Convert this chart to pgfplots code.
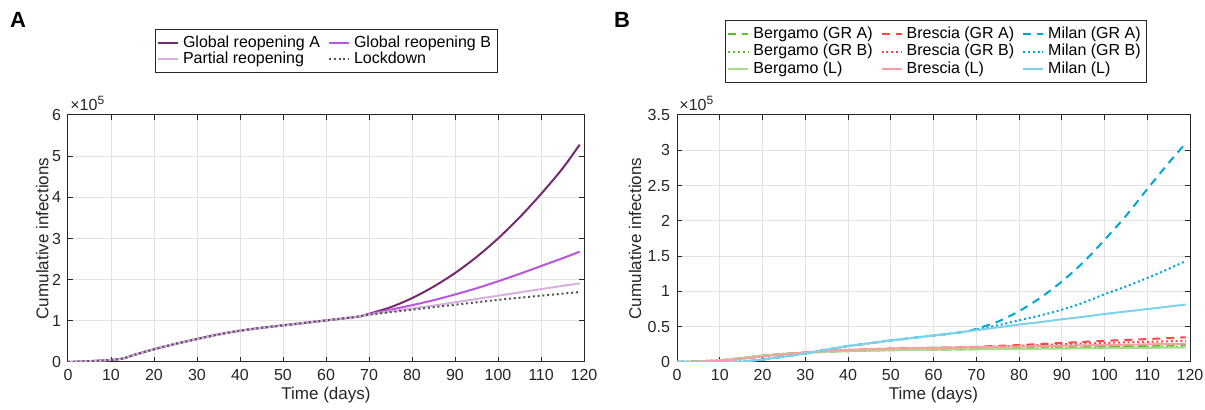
\documentclass[border=0pt]{standalone}
\usepackage{fontspec}
\setmainfont{Liberation Sans}
\usepackage{pgfplots}
\usepackage{pgfplotstable}
\pgfplotsset{compat=1.18}

% cumulative infections, in units of 1e5
\pgfplotstableread{
t   gra   grb   pr    ld
0   0     0     0     0
5   0.02  0.02  0.02  0.02
10  0.05  0.05  0.05  0.05
13  0.09  0.09  0.09  0.09
15  0.16  0.16  0.16  0.16
20  0.31  0.31  0.31  0.31
25  0.44  0.44  0.44  0.44
30  0.56  0.56  0.56  0.56
35  0.67  0.67  0.67  0.67
40  0.76  0.76  0.76  0.76
45  0.83  0.83  0.83  0.83
50  0.89  0.89  0.89  0.89
55  0.95  0.95  0.95  0.95
60  1.01  1.01  1.01  1.01
65  1.07  1.07  1.07  1.07
68  1.11  1.11  1.11  1.11
70  1.17  1.16  1.15  1.15
75  1.33  1.27  1.23  1.21
80  1.55  1.38  1.30  1.27
85  1.83  1.50  1.37  1.33
90  2.16  1.64  1.45  1.39
95  2.55  1.79  1.53  1.45
100 3.00  1.96  1.61  1.51
105 3.51  2.14  1.69  1.56
110 4.08  2.33  1.77  1.61
115 4.70  2.52  1.85  1.66
119 5.28  2.68  1.91  1.70
}\dataA

\pgfplotstableread{
t   bgA   bgB   bgL   bsA   bsB   bsL   miA   miB   miL
0   0     0     0     0     0     0     0     0     0
5   0.01  0.01  0.01  0.005 0.005 0.005 0     0     0
10  0.025 0.025 0.025 0.02  0.02  0.02  -0.005 -0.005 -0.005
15  0.055 0.055 0.055 0.045 0.045 0.045 0.005 0.005 0.005
20  0.09  0.09  0.09  0.08  0.08  0.08  0.035 0.035 0.035
25  0.115 0.115 0.115 0.11  0.11  0.11  0.077 0.077 0.077
30  0.13  0.13  0.13  0.135 0.135 0.135 0.12  0.12  0.12
35  0.145 0.145 0.145 0.155 0.155 0.155 0.175 0.175 0.175
40  0.155 0.155 0.155 0.17  0.17  0.17  0.225 0.225 0.225
45  0.162 0.162 0.162 0.18  0.18  0.18  0.265 0.265 0.265
50  0.168 0.168 0.168 0.19  0.19  0.19  0.305 0.305 0.305
55  0.172 0.172 0.172 0.195 0.195 0.195 0.34  0.34  0.34
60  0.175 0.175 0.175 0.20  0.20  0.20  0.375 0.375 0.375
65  0.178 0.178 0.178 0.205 0.205 0.205 0.41  0.41  0.41
68  0.179 0.179 0.179 0.207 0.207 0.207 0.435 0.435 0.435
70  0.185 0.182 0.18  0.215 0.21  0.21  0.47  0.46  0.45
75  0.192 0.186 0.183 0.228 0.22  0.215 0.57  0.52  0.49
80  0.20  0.19  0.185 0.24  0.23  0.22  0.72  0.59  0.53
85  0.205 0.195 0.188 0.255 0.24  0.225 0.91  0.66  0.565
90  0.21  0.20  0.19  0.27  0.25  0.23  1.14  0.74  0.605
95  0.215 0.205 0.193 0.285 0.26  0.235 1.41  0.84  0.64
100 0.22  0.21  0.195 0.30  0.27  0.24  1.73  0.96  0.68
105 0.225 0.212 0.198 0.312 0.278 0.245 2.07  1.07  0.715
110 0.23  0.215 0.20  0.325 0.285 0.25  2.45  1.19  0.75
115 0.235 0.218 0.203 0.338 0.293 0.255 2.82  1.32  0.785
119 0.24  0.22  0.205 0.35  0.30  0.26  3.10  1.43  0.815
}\dataB

\definecolor{grA}{RGB}{118,42,110}
\definecolor{grB}{RGB}{187,85,221}
\definecolor{prt}{RGB}{216,176,224}
\definecolor{lck}{RGB}{85,85,85}
\definecolor{bgD}{RGB}{92,190,40}
\definecolor{bgL}{RGB}{168,220,140}
\definecolor{bsD}{RGB}{255,70,70}
\definecolor{bsL}{RGB}{250,160,160}
\definecolor{miD}{RGB}{0,166,214}
\definecolor{miL}{RGB}{125,210,235}
\definecolor{axc}{RGB}{38,38,38}

\tikzset{
  dsh/.style={dash pattern=on 4pt off 3pt},
  dtt/.style={dash pattern=on 1pt off 1.4pt},
  x10/.style={anchor=south west, inner sep=0pt, text=axc,
    font=\fontsize{8}{9}\selectfont, xshift=1pt, yshift=2pt},
}
\pgfplotsset{
  panel/.style={
    scale only axis, height=123.5pt,
    xmin=0, xmax=120, xtick={0,10,...,120},
    scaled ticks=false, clip mode=individual,
    grid=major, major grid style={gray!22, line width=0.5pt},
    axis line style={axc, line width=0.5pt},
    tick align=inside, major tick length=2.5pt,
    tick style={axc, line width=0.5pt},
    xtick pos=both, ytick pos=both,
    every tick label/.append style={font=\fontsize{8}{9}\selectfont, text=axc},
    /pgf/number format/assume math mode=true,
    label style={font=\fontsize{8.5}{10}\selectfont, text=axc},
    xlabel={Time (days)},
    ylabel={Cumulative infections},
    xlabel style={at={(axis description cs:0.5,-0.135)}, anchor=center},
    legend style={draw=axc, fill=white, font=\fontsize{8}{9.5}\selectfont,
      inner sep=1pt},
    legend cell align=left,
    legend image code/.code={\draw[#1] (0pt,0pt) -- (10pt,0pt);},
    every axis plot/.append style={line width=1pt},
  },
}

\begin{document}
\begin{tikzpicture}
\useasboundingbox (0,0) rectangle (602.5pt,205pt);
\node[font=\bfseries\fontsize{11}{12}\selectfont] at (9pt,195pt) {A};
\node[font=\bfseries\fontsize{11}{12}\selectfont] at (311pt,195pt) {B};

\begin{axis}[panel, at={(34pt,24pt)}, anchor=south west, width=258pt,
  ymin=0, ymax=6, ytick={0,1,...,6},
  ylabel style={at={(axis description cs:-0.05,0.5)}, anchor=center},
  legend columns=2,
  legend style={at={(axis description cs:0.5,1.17)}, anchor=south,
    row sep=-3pt,
    /tikz/every even column/.append style={column sep=2pt}},
]
\addplot[grA, smooth] table[x=t, y=gra] {\dataA};
\addplot[grB, smooth] table[x=t, y=grb] {\dataA};
\addplot[prt, smooth] table[x=t, y=pr] {\dataA};
\addplot[lck, smooth, dtt] table[x=t, y=ld] {\dataA};
\legend{Global reopening A, Global reopening B, Partial reopening, Lockdown}
\node[x10] at (rel axis cs:0,1) {×10\textsuperscript{5}};
\end{axis}

\begin{axis}[panel, at={(338.5pt,24pt)}, anchor=south west, width=256.5pt,
  ymin=0, ymax=3.5, ytick={0,0.5,...,3.5},
  yticklabel style={/pgf/number format/fixed, /pgf/number format/precision=1},
  ylabel style={at={(axis description cs:-0.082,0.5)}, anchor=center},
  legend columns=3,
  legend style={at={(axis description cs:0.505,1.13)}, anchor=south,
    row sep=-2.5pt,
    /tikz/every even column/.append style={column sep=2pt}},
]
\addplot[bgD, smooth, dsh] table[x=t, y=bgA] {\dataB};
\addplot[bsD, smooth, dsh] table[x=t, y=bsA] {\dataB};
\addplot[miD, smooth, dsh] table[x=t, y=miA] {\dataB};
\addplot[bgD, smooth, dtt] table[x=t, y=bgB] {\dataB};
\addplot[bsD, smooth, dtt] table[x=t, y=bsB] {\dataB};
\addplot[miD, smooth, dtt] table[x=t, y=miB] {\dataB};
\addplot[bgL, smooth] table[x=t, y=bgL] {\dataB};
\addplot[bsL, smooth] table[x=t, y=bsL] {\dataB};
\addplot[miL, smooth] table[x=t, y=miL] {\dataB};
\legend{Bergamo (GR A), Brescia (GR A), Milan (GR A),
  Bergamo (GR B), Brescia (GR B), Milan (GR B),
  Bergamo (L), Brescia (L), Milan (L)}
\node[x10] at (rel axis cs:0,1) {×10\textsuperscript{5}};
\end{axis}
\end{tikzpicture}
\end{document}
